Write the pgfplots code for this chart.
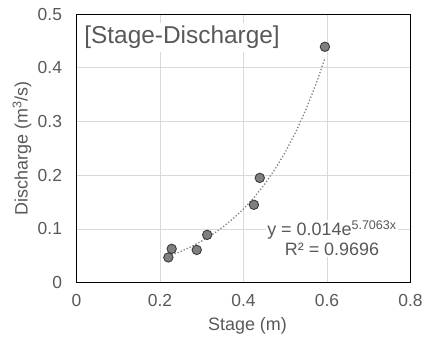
\documentclass[border=0pt]{standalone}
\usepackage{pgfplots}
\pgfplotsset{compat=1.18}
\usepackage{fontspec}
\setmainfont{Liberation Sans}
\definecolor{txt}{HTML}{595959}
\definecolor{gridc}{HTML}{D9D9D9}
\definecolor{mk}{HTML}{7F7F7F}
\definecolor{mkedge}{HTML}{3A3A3A}
\begin{document}
\begin{tikzpicture}
\begin{axis}[
  at={(0,0)}, anchor=south west,
  scale only axis, width=334bp, height=268.7bp,
  xmin=0, xmax=0.8, ymin=0, ymax=0.5,
  xtick={0,0.2,0.4,0.6,0.8}, ytick={0,0.1,0.2,0.3,0.4,0.5},
  grid=major, major grid style={gridc, line width=0.8pt},
  axis line style={black, line width=0.8pt},
  tick style={draw=none},
  /pgf/number format/assume math mode=true,
  /pgf/number format/fixed,
  ticklabel style={font=\fontsize{17.5}{20}\selectfont, text=txt},
  xticklabel style={yshift=-8bp},
  yticklabel style={xshift=-11bp},
  xlabel={Stage (m)}, ylabel={Discharge (m\textsuperscript{3}/s)},
  label style={font=\fontsize{18}{21}\selectfont, text=txt},
  xlabel style={at={(axis description cs:0.5,0)}, anchor=center, yshift=-43bp, xshift=4bp},
  ylabel style={at={(axis description cs:0,0.5)}, anchor=center, yshift=54.5bp},
  clip=false,
]
\addplot[dotted, color=gray, line width=1.3pt] coordinates {
(0.22,0.0491) (0.25,0.0583) (0.275,0.0672) (0.30,0.0775) (0.325,0.0894)
(0.35,0.1032) (0.375,0.1190) (0.40,0.1372) (0.425,0.1583) (0.45,0.1826)
(0.475,0.2106) (0.50,0.2428) (0.525,0.2800) (0.55,0.3230) (0.575,0.3724) (0.595,0.4175)
};
\addplot[only marks, mark=*, mark size=4.7bp, mark options={fill=mk, draw=mkedge, line width=0.9pt}] coordinates {
(0.220,0.047) (0.228,0.063) (0.288,0.061) (0.313,0.089) (0.425,0.145) (0.439,0.195) (0.595,0.439)
};
\node[anchor=west, text=txt, fill=white, inner sep=3pt, font=\fontsize{24.5}{28}\selectfont] at (rel axis cs:0.014,0.912) {[Stage-Discharge]};
\node[align=center, text=txt, font=\fontsize{18}{20}\selectfont, fill=white, inner sep=1pt] at (axis cs:0.612,0.0825) {y = 0.014e\textsuperscript{5.7063x}\\R² = 0.9696};
\end{axis}
\pgfresetboundingbox
\path[use as bounding box] (-76.5bp,-57.3bp) rectangle (347.5bp,282.7bp);
\end{tikzpicture}
\end{document}
